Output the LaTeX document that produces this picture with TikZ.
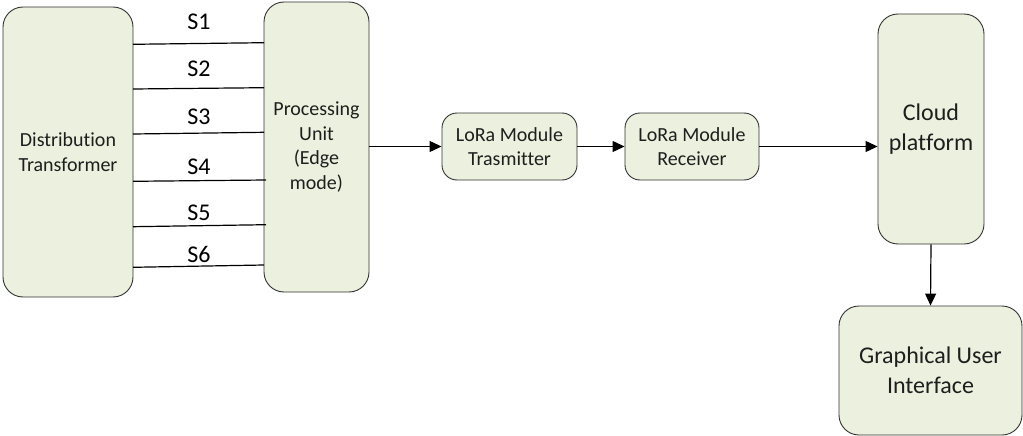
\documentclass[tikz,border=0pt]{standalone}
\usepackage{fontspec}
\setmainfont{Carlito}[Ligatures=NoCommon]
\usetikzlibrary{arrows.meta}
\definecolor{boxfill}{RGB}{235,241,222}
\definecolor{boxdraw}{RGB}{50,50,50}
\definecolor{txt}{RGB}{30,30,30}
\begin{document}
\begin{tikzpicture}[x=1pt,y=-1pt,
  blk/.style={draw=boxdraw,line width=0.9pt,fill=boxfill,rounded corners=20pt,
    align=center,text=txt,inner sep=0pt,font=\fontsize{20}{24.5}\selectfont},
  bigtext/.style={font=\fontsize{24}{30}\selectfont},
  wire/.style={line width=1.2pt,black},
  conn/.style={line width=1.2pt,black,-{Triangle[length=12pt,width=11pt]}},
  slabel/.style={text=black,font=\fontsize{24}{28}\selectfont,inner sep=0pt}]
\useasboundingbox (0,0) rectangle (1023,436);

\node[blk,minimum width=130pt,minimum height=290pt] (dt) at (68,152) {Distribution\\Transformer};
\node[blk,minimum width=105pt,minimum height=290pt] (pu) at (316.5,147) {Processing\\Unit\\(Edge\\mode)};
\node[blk,rounded corners=15pt,minimum width=135pt,minimum height=67pt] (tx) at (509.5,146.5) {LoRa Module\\Trasmitter};
\node[blk,rounded corners=15pt,minimum width=134pt,minimum height=67pt] (rx) at (692,146.5) {LoRa Module\\Receiver};
\node[blk,bigtext,minimum width=106pt,minimum height=230pt] (cloud) at (931,129) {Cloud\\platform};
\node[blk,bigtext,minimum width=183pt,minimum height=129pt] (gui) at (930.5,370.5) {Graphical User\\Interface};

% sensor wires
\coordinate (a1) at (133,44.3);  \coordinate (b1) at (264,42.7);
\coordinate (a2) at (133,89);    \coordinate (b2) at (264,87.7);
\coordinate (a3) at (133,134);   \coordinate (b3) at (264,132.3);
\coordinate (a4) at (133,181.3); \coordinate (b4) at (266,180);
\coordinate (a5) at (133,226.7); \coordinate (b5) at (266,224.7);
\coordinate (a6) at (133,267.3); \coordinate (b6) at (264,265);
\foreach \i in {1,...,6} {\draw[wire] (a\i) -- (b\i);}

\node[slabel] (s1) at (199,22) {S1};
\node[slabel] (s2) at (199,69) {S2};
\node[slabel] (s3) at (199,117) {S3};
\node[slabel] (s4) at (199,167) {S4};
\node[slabel] (s5) at (199,213) {S5};
\node[slabel] (s6) at (199,254) {S6};

\draw[conn] (pu.east |- tx.west) -- (tx.west);
\draw[conn] (tx.east) -- (rx.west);
\draw[conn] (rx.east) -- (rx.east -| cloud.west);
\draw[conn] (cloud.south) -- (gui.north);
\end{tikzpicture}
\end{document}
